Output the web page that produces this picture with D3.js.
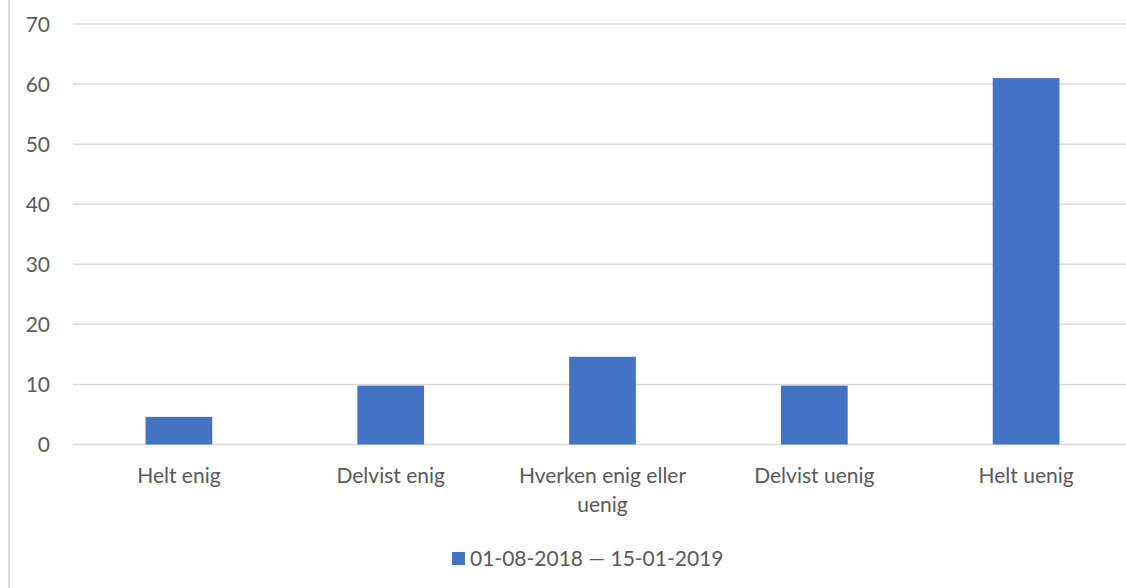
<!DOCTYPE html>
<html>
<head>
<meta charset="utf-8">
<script src="https://cdn.jsdelivr.net/npm/d3@7"></script>
<style>
  html, body { margin: 0; padding: 0; background: #fff; }
  svg { display: block; }
  text { font-family: "Lato", "Liberation Sans", sans-serif; fill: #595959; }
</style>
</head>
<body>
<svg id="chart" width="1126" height="588"></svg>
<script>
// Survey answers and their counts
const categories = ["Helt enig", "Delvist enig", "Hverken enig eller uenig", "Delvist uenig", "Helt uenig"];
const categoryLines = [["Helt enig"], ["Delvist enig"], ["Hverken enig eller", "uenig"], ["Delvist uenig"], ["Helt uenig"]];
const values = [4.6, 9.8, 14.6, 9.8, 61.0];
const yTicks = [0, 10, 20, 30, 40, 50, 60, 70];
const seriesName = "01-08-2018 — 15-01-2019";

const svg = d3.select("#chart");
const barColor = "#4472c4";
const gridColor = "#d9d9d9";
const fontSize = 21;

// outer frame (only left edge visible in the window)
svg.append("rect")
  .attr("x", 9).attr("y", -2).attr("width", 1200).attr("height", 600)
  .attr("fill", "none").attr("stroke", gridColor).attr("stroke-width", 2);

const x = d3.scaleBand().domain(categories).range([73, 1132]).paddingInner(0.685).paddingOuter(0.3425);
const y = d3.scaleLinear().domain([0, 70]).range([444.5, 24]);

// gridlines
svg.append("g").selectAll("line").data(yTicks).join("line")
  .attr("x1", 73).attr("x2", 1132)
  .attr("y1", d => y(d)).attr("y2", d => y(d))
  .attr("stroke", gridColor).attr("stroke-width", 1.5);

// y axis labels
const yAxis = d3.axisLeft(y).tickValues(yTicks).tickSize(0).tickPadding(0);
const yg = svg.append("g").attr("transform", "translate(50,0)").call(yAxis);
yg.select(".domain").remove();
yg.selectAll("text").attr("font-size", fontSize).attr("font-family", "Lato, 'Liberation Sans', sans-serif")
  .attr("fill", "#595959").attr("dy", "0.34em");

// bars
svg.append("g").selectAll("rect").data(values).join("rect")
  .attr("x", (d, i) => x(categories[i]))
  .attr("width", x.bandwidth())
  .attr("y", d => y(d))
  .attr("height", d => y(0) - y(d))
  .attr("fill", barColor);

// category labels
const xg = svg.append("g");
categories.forEach((c, i) => {
  const t = xg.append("text")
    .attr("x", x(c) + x.bandwidth() / 2)
    .attr("y", 483)
    .attr("text-anchor", "middle")
    .attr("font-size", fontSize);
  categoryLines[i].forEach((line, j) => {
    t.append("tspan").attr("x", x(c) + x.bandwidth() / 2).attr("dy", j === 0 ? 0 : 29).text(line);
  });
});

// legend
const lg = svg.append("g");
lg.append("rect").attr("x", 452).attr("y", 552).attr("width", 13).attr("height", 13).attr("fill", barColor);
lg.append("text").attr("x", 470).attr("y", 566).attr("font-size", fontSize).text(seriesName);
</script>
</body>
</html>
